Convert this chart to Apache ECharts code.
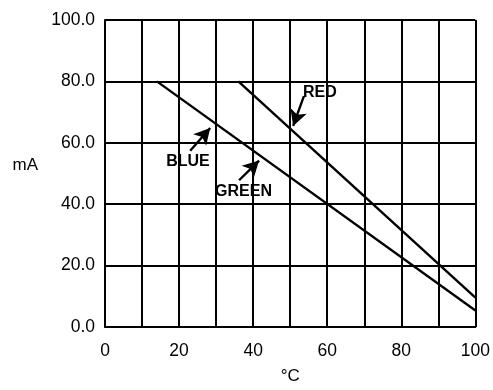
<!DOCTYPE html>
<html>
<head>
<meta charset="utf-8">
<script src="https://cdn.jsdelivr.net/npm/echarts@6/dist/echarts.min.js"></script>
<style>
    html, body { margin: 0; padding: 0; background: #fff; }
    #chart { width: 493px; height: 390px; }
</style>
</head>
<body>
<div id="chart"></div>
<script>
// lines (°C, mA)
var blueGreenLine = [[14, 80], [100, 5.4]];
var redLine = [[36, 80], [100, 9.6]];

// callouts: text, text position, arrow tail, arrow tip
var calloutNames = ['BLUE', 'GREEN', 'RED'];
var calloutText = [[22.4, 54.0], [37.4, 44.0], [58, 76.5]];
var arrowTail = [[23.0, 57.4], [36.2, 47.8], [53.7, 75.2]];
var arrowTip = [[28.4, 64.8], [41.6, 54.2], [50.8, 65.5]];

var font = 'Liberation Sans, Arial, sans-serif';

var chart = echarts.init(document.getElementById('chart'));

var arrows = [];
var labels = [];
for (var i = 0; i < calloutNames.length; i++) {
    arrows.push([{ coord: arrowTail[i] }, { coord: arrowTip[i] }]);
    labels.push({ value: calloutText[i], name: calloutNames[i] });
}

chart.setOption({
    animation: false,
    backgroundColor: '#fff',
    grid: { left: 105, right: 17, top: 20, bottom: 60 },
    xAxis: {
        type: 'value',
        min: 0,
        max: 100,
        interval: 10,
        name: '°C',
        nameLocation: 'middle',
        nameGap: 41,
        nameTextStyle: { color: '#000', fontSize: 17, fontFamily: font },
        axisLine: { lineStyle: { color: '#000', width: 2 } },
        axisTick: { show: false },
        axisLabel: {
            color: '#000', fontSize: 17.5, fontFamily: font, margin: 15,
            formatter: function(v) { return v % 20 === 0 ? String(v) : ''; }
        },
        splitLine: { lineStyle: { color: '#000', width: 2 } }
    },
    yAxis: {
        type: 'value',
        min: 0,
        max: 100,
        interval: 20,
        name: 'mA',
        nameLocation: 'middle',
        nameRotate: 0,
        nameGap: 67,
        nameTextStyle: { color: '#000', fontSize: 17, fontFamily: font, verticalAlign: 'bottom' },
        axisLine: { show: true, lineStyle: { color: '#000', width: 2 } },
        axisTick: { show: false },
        axisLabel: {
            color: '#000', fontSize: 17.5, fontFamily: font, margin: 10,
            formatter: function(v) { return v.toFixed(1); }
        },
        splitLine: { lineStyle: { color: '#000', width: 2 } }
    },
    series: [
        {
            type: 'line',
            data: blueGreenLine,
            symbol: 'none',
            lineStyle: { color: '#000', width: 2.4 },
            markLine: {
                silent: true,
                symbol: ['none', 'arrow'],
                symbolSize: [13, 16],
                label: { show: false },
                itemStyle: { color: '#000' },
                lineStyle: { color: '#000', width: 2.4, type: 'solid', opacity: 1 },
                data: arrows
            }
        },
        {
            type: 'line',
            data: redLine,
            symbol: 'none',
            lineStyle: { color: '#000', width: 2.4 }
        },
        {
            type: 'scatter',
            data: labels,
            symbolSize: 0,
            itemStyle: { opacity: 1, color: '#000' },
            label: {
                show: true,
                position: 'inside',
                formatter: '{b}',
                color: '#000',
                textBorderWidth: 0,
                fontSize: 16,
                fontWeight: 'bold',
                fontFamily: font
            }
        }
    ]
});
</script>
</body>
</html>
